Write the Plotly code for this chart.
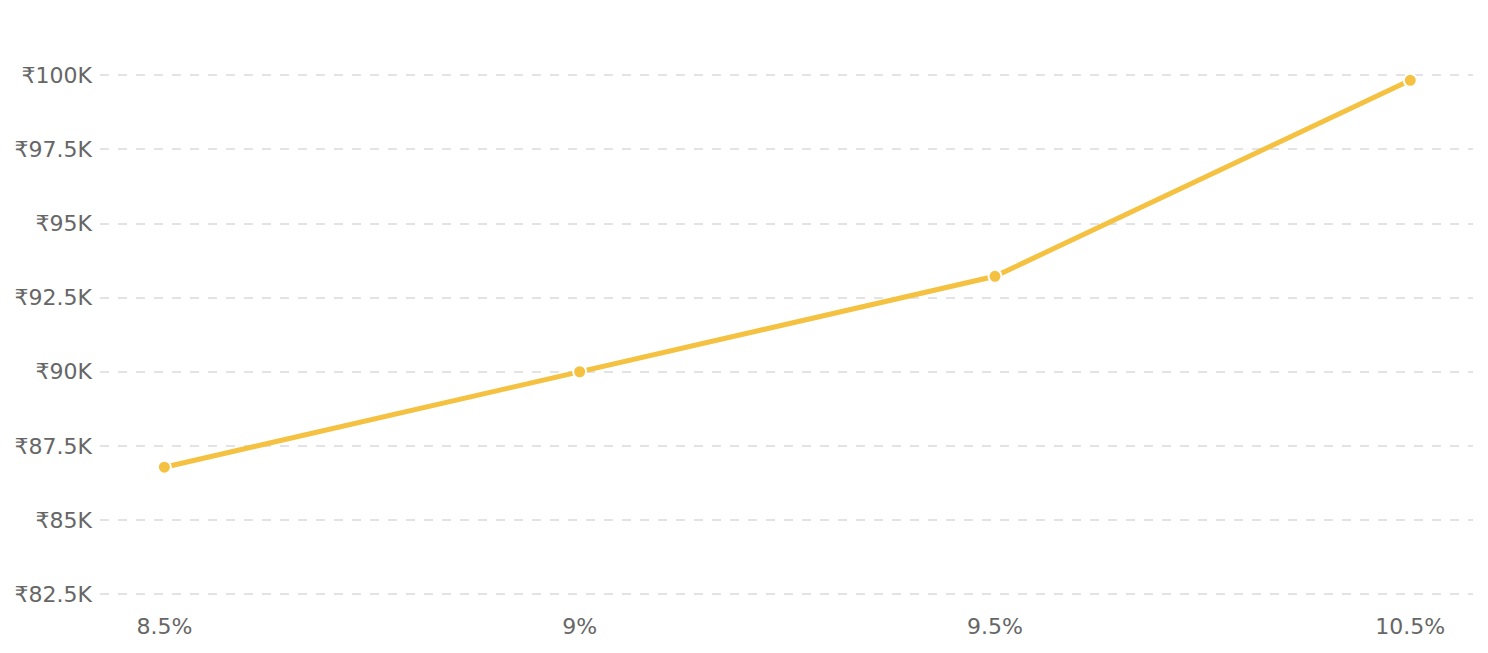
import plotly.graph_objects as go

# interest rate vs amount
rates = ["8.5%", "9%", "9.5%", "10.5%"]
amounts = [86780, 90000, 93220, 99830]

tick_vals = [82500, 85000, 87500, 90000, 92500, 95000, 97500, 100000]
tick_text = ["₹82.5K", "₹85K", "₹87.5K", "₹90K", "₹92.5K", "₹95K", "₹97.5K", "₹100K"]

fig = go.Figure()
fig.add_trace(go.Scatter(
    x=rates,
    y=amounts,
    mode="lines+markers",
    line=dict(color="#F4C140", width=5),
    marker=dict(size=13, color="#F4C140", line=dict(color="white", width=2)),
    hoverinfo="x+y",
))

# page body has an 8px margin, so margins are shifted by that
fig.update_layout(
    width=1488,
    height=653,
    margin=dict(l=92, r=23, t=8, b=61),
    paper_bgcolor="white",
    plot_bgcolor="white",
    showlegend=False,
    font=dict(family="DejaVu Sans", size=22, color="#666666"),
    xaxis=dict(
        type="category",
        range=[-0.155, 3.151],
        showgrid=False,
        zeroline=False,
        showline=False,
        ticks="",
        ticklabelstandoff=11,
    ),
    yaxis=dict(
        range=[82300, 102000],
        tickvals=tick_vals,
        ticktext=tick_text,
        showgrid=True,
        gridcolor="#e3e3e6",
        griddash="dash",
        gridwidth=1.5,
        zeroline=False,
        showline=False,
        ticks="",
        ticklabelstandoff=7,
    ),
)

fig.write_html("out.html")
